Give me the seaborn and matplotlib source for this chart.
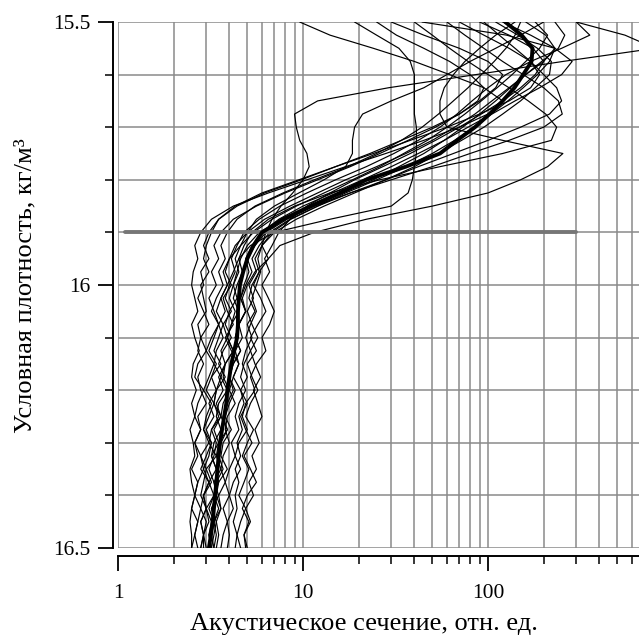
import numpy as np
import pandas as pd
import matplotlib
matplotlib.use("Agg")
import matplotlib.pyplot as plt
import seaborn as sns
from matplotlib.ticker import FixedLocator, FixedFormatter, NullFormatter, LogLocator

# density levels (conditional density, kg/m3)
density = [15.500, 15.525, 15.550, 15.575, 15.600, 15.625, 15.650, 15.675, 15.700, 15.725,
           15.750, 15.775, 15.800, 15.825, 15.850, 15.875, 15.900, 15.925, 15.950, 15.975,
           16.000, 16.025, 16.050, 16.075, 16.100, 16.125, 16.150, 16.175, 16.200, 16.225,
           16.250, 16.275, 16.300, 16.325, 16.350, 16.375, 16.400, 16.425, 16.450, 16.475,
           16.500]

# mean profile (thick line)
mean_profile = [124, 152, 174, 172, 155, 139, 120, 102, 85, 68,
                55, 36, 22, 15.8, 11, 7.8, 6.0, 5.4, 5.0, 4.75,
                4.56, 4.5, 4.45, 4.45, 4.4, 4.25, 4.1, 4.0, 3.9, 3.85,
                3.75, 3.65, 3.56, 3.5, 3.45, 3.4, 3.35, 3.3, 3.25, 3.18,
                3.1]

# individual profiles (thin lines)
p01 = [160, 205, 230, 215, 185, 155, 128, 104, 84, 66, 50, 36, 25, 17, 12, 8.6, 6.8,
       6.0, 5.7, 5.9, 5.6, 5.3, 5.6, 5.2, 4.9, 5.2, 4.8, 4.6, 4.9, 4.5, 4.3, 4.5, 4.1, 4.3, 4.0, 3.8, 4.0, 3.7, 3.9, 3.7, 3.6]
p02 = [120, 170, 230, 285, 250, 190, 140, 105, 78, 58, 42, 30, 21, 14.5, 10, 7.4, 6.0,
       5.3, 4.9, 5.1, 4.8, 4.6, 4.9, 4.5, 4.3, 4.6, 4.2, 4.0, 4.2, 3.9, 3.7, 3.9, 3.6, 3.5, 3.7, 3.4, 3.3, 3.5, 3.3, 3.2, 3.3]
p03 = [60, 75, 95, 120, 155, 200, 240, 252, 200, 130, 80, 50, 30, 18, 11.5, 7.8, 5.8,
       5.0, 4.6, 4.4, 4.2, 4.4, 4.0, 3.8, 4.1, 3.7, 3.5, 3.8, 3.4, 3.3, 3.6, 3.2, 3.1, 3.4, 3.0, 3.2, 2.9, 3.0, 3.1, 2.9, 3.0]
p04 = [30, 45, 70, 100, 120, 110, 90, 70, 50, 34, 23, 15, 9.8, 6.2, 4.4, 3.5, 3.2,
       3.0, 2.9, 3.1, 2.8, 2.9, 3.0, 2.7, 2.8, 3.0, 2.7, 2.6, 2.9, 2.7, 2.6, 2.8, 2.6, 2.7, 2.5, 2.7, 2.6, 2.5, 2.7, 2.6, 2.5]
p05 = [9.6, 14, 24, 40, 62, 95, 120, 100, 70, 45, 28, 17, 10.5, 6.5, 4.2, 3.2, 2.8,
       2.6, 2.7, 2.55, 2.5, 2.6, 2.7, 2.5, 2.6, 2.75, 2.55, 2.5, 2.65, 2.5, 2.6, 2.45, 2.55, 2.6, 2.45, 2.5, 2.6, 2.5, 2.45, 2.5, 2.5]
p06 = [19, 25, 33, 38, 40, 40, 40, 40, 41, 41, 41, 40, 39, 37, 30, 14, 7.0,
       5.2, 4.5, 4.2, 3.9, 3.6, 3.8, 3.5, 3.7, 3.4, 3.3, 3.6, 3.4, 3.3, 3.5, 3.2, 3.4, 3.3, 3.1, 3.3, 3.4, 3.2, 3.3, 3.1, 3.2]
p07 = [300, 550, 800, 254, 86, 29, 12, 9.0, 9.2, 9.6, 10.5, 10.8, 10, 8.8, 7.6, 6.8, 6.3,
       6.0, 6.5, 5.8, 5.4, 5.9, 6.3, 5.7, 5.2, 5.6, 5.0, 5.3, 5.7, 5.2, 4.9, 5.4, 5.0, 4.7, 5.1, 4.8, 4.5, 4.9, 4.6, 4.4, 4.6]
p08 = [200, 150, 110, 80, 60, 45, 30, 21, 19, 18.5, 18.5, 17, 13, 9.5, 7.0, 5.6, 5.0,
       4.6, 4.3, 4.5, 4.2, 4.0, 4.3, 4.1, 3.9, 4.2, 3.8, 3.7, 4.0, 3.7, 3.6, 3.9, 3.5, 3.4, 3.6, 3.3, 3.5, 3.2, 3.4, 3.3, 3.2]
p09 = [140, 110, 90, 75, 65, 58, 55, 55, 60, 120, 254, 210, 150, 100, 50, 22, 11.5,
       7.5, 6.5, 5.5, 5.0, 4.7, 4.9, 4.5, 4.3, 4.6, 4.2, 4.0, 4.3, 4.0, 3.8, 4.1, 3.7, 3.6, 3.9, 3.5, 3.4, 3.6, 3.3, 3.4, 3.3]
p10 = [90, 130, 175, 200, 180, 150, 120, 92, 70, 52, 38, 27, 19, 14, 10.5, 8.5, 7.4,
       6.8, 6.2, 6.6, 6.0, 6.5, 7.0, 6.6, 6.0, 6.3, 5.6, 5.2, 5.5, 4.9, 4.7, 5.0, 4.5, 4.3, 4.6, 4.2, 4.0, 4.2, 3.9, 4.0, 3.9]
p11 = [300, 355, 250, 170, 125, 100, 82, 68, 55, 42, 31, 22, 15, 10.5, 7.5, 5.8, 4.8,
       4.4, 4.1, 4.3, 4.0, 3.8, 4.1, 3.7, 3.9, 3.6, 3.8, 3.5, 3.7, 3.4, 3.6, 3.3, 3.5, 3.2, 3.4, 3.5, 3.3, 3.1, 3.3, 3.2, 3.1]
p12 = [44, 126, 230, 200, 160, 130, 105, 85, 66, 50, 36, 25, 17, 12, 8.5, 6.2, 5.0,
       4.3, 4.0, 3.7, 3.9, 3.6, 3.4, 3.7, 3.5, 3.3, 3.6, 3.2, 3.4, 3.1, 3.3, 3.0, 3.2, 3.1, 2.9, 3.1, 2.9, 3.0, 2.8, 2.9, 2.8]
p13 = [70, 95, 130, 170, 190, 170, 130, 90, 60, 38, 24, 15, 9.5, 6.0, 4.3, 3.5, 3.1,
       2.9, 3.1, 2.8, 2.9, 2.7, 2.9, 3.1, 2.8, 2.7, 2.9, 2.7, 2.8, 3.0, 2.7, 2.8, 2.6, 2.8, 2.9, 2.7, 2.6, 2.8, 2.7, 2.6, 2.7]
p14 = [110, 145, 185, 220, 215, 180, 150, 120, 95, 72, 54, 40, 28, 19, 13, 9.2, 7.0,
       6.0, 5.5, 5.8, 5.3, 5.1, 5.5, 5.0, 5.3, 4.9, 4.7, 5.0, 4.6, 4.8, 4.5, 4.7, 4.4, 4.6, 4.3, 4.5, 4.3, 4.4, 4.2, 4.4, 4.3]
p15 = [40, 50, 62, 78, 100, 130, 165, 205, 235, 220, 120, 55, 26, 14, 9.0, 6.5, 5.3,
       4.8, 4.5, 4.7, 4.4, 4.2, 4.5, 4.1, 3.9, 4.2, 3.8, 3.6, 3.9, 3.5, 3.4, 3.6, 3.3, 3.2, 3.4, 3.1, 3.3, 3.0, 3.2, 3.1, 3.2]
p16 = [180, 210, 190, 160, 135, 112, 92, 75, 60, 47, 35, 26, 18.5, 13, 9.2, 6.8, 5.4,
       4.6, 4.0, 3.8, 4.1, 3.7, 3.9, 4.2, 3.8, 4.1, 4.5, 4.2, 4.6, 5.0, 4.6, 4.9, 5.3, 4.8, 5.2, 5.6, 5.0, 4.7, 5.1, 4.8, 4.9]
p17 = [25, 32, 45, 62, 80, 95, 88, 70, 52, 37, 26, 18, 12, 8.0, 5.6, 4.2, 3.6,
       3.3, 3.5, 3.2, 3.4, 3.1, 3.3, 3.5, 3.2, 3.0, 3.3, 3.1, 2.9, 3.2, 3.0, 2.9, 3.1, 2.8, 3.0, 2.9, 2.8, 3.0, 2.8, 2.9, 2.8]
p18 = [230, 260, 240, 195, 160, 132, 110, 90, 73, 58, 45, 33, 24, 16.5, 11.5, 8.2, 6.3,
       5.5, 5.0, 5.3, 4.9, 4.6, 4.9, 4.5, 4.7, 4.3, 4.5, 4.2, 4.0, 4.3, 3.9, 3.8, 4.0, 3.7, 3.6, 3.8, 3.5, 3.6, 3.4, 3.5, 3.4]
p19 = [150, 140, 125, 108, 92, 78, 65, 54, 44, 34, 25, 17.5, 11.5, 7.8, 5.5, 4.4, 3.9,
       3.6, 3.8, 3.5, 3.7, 3.4, 3.2, 3.5, 3.3, 3.1, 3.4, 3.2, 3.0, 3.3, 3.1, 2.9, 3.2, 3.0, 2.8, 3.1, 2.9, 2.8, 3.0, 2.9, 2.9]
p20 = [95, 115, 140, 170, 200, 235, 250, 215, 150, 100, 65, 42, 28, 18, 12, 8.5, 6.6,
       5.8, 5.3, 5.6, 5.1, 5.4, 5.0, 5.3, 5.7, 5.2, 5.5, 5.9, 5.4, 5.7, 6.0, 5.5, 5.8, 5.3, 5.6, 5.1, 5.4, 4.9, 5.2, 4.8, 5.0]

profiles = [p01, p02, p03, p04, p05, p06, p07, p08, p09, p10,
            p11, p12, p13, p14, p15, p16, p17, p18, p19, p20]

# reference density level (gray horizontal line)
ref_density = 15.9
ref_x = [1.09, 300]

x_ticks = [1, 10, 100]
x_ticklabels = ["1", "10", "100"]
y_ticks = [15.5, 16.0, 16.5]
y_ticklabels = ["15.5", "16", "16.5"]
y_minor = [15.6, 15.7, 15.8, 15.9, 16.1, 16.2, 16.3, 16.4]

xlabel = "Акустическое сечение, отн. ед."
ylabel = "Условная плотность, кг/м³"

# ---------------------------------------------------------------
rows = []
for i, p in enumerate(profiles):
    assert len(p) == len(density), (i, len(p))
    for d, v in zip(density, p):
        rows.append({"profile": i, "density": d, "value": v})
df = pd.DataFrame(rows)
df_mean = pd.DataFrame({"density": density, "value": mean_profile})
df_ref = pd.DataFrame({"density": [ref_density, ref_density], "value": ref_x})

sns.set_theme(style="white")
plt.rcParams["font.family"] = ["Liberation Serif", "DejaVu Serif"]

W, H = 639, 635
fig = plt.figure(figsize=(W / 100, H / 100), dpi=100)
x0, x1 = 118, 639
y0, y1 = 22, 548
ax = fig.add_axes([x0 / W, 1 - y1 / H, (x1 - x0) / W, (y1 - y0) / H])
ax.set_xscale("log")
ax.set_xlim(1, 10 ** ((x1 - x0) / 185.0))
ax.set_ylim(16.5, 15.5)

grid_color = "#8a8a8a"
ax.set_axisbelow(True)

sns.lineplot(data=df, x="value", y="density", units="profile", estimator=None,
             sort=False, color="black", linewidth=0.85, ax=ax, legend=False,
             solid_joinstyle="round")
sns.lineplot(data=df_ref, x="value", y="density", estimator=None, sort=False,
             color="#767676", linewidth=2.8, ax=ax, legend=False)
sns.lineplot(data=df_mean, x="value", y="density", estimator=None, sort=False,
             color="black", linewidth=2.8, ax=ax, legend=False,
             solid_joinstyle="round")

ax.set_xlabel("")
ax.set_ylabel("")

for s in ["top", "right"]:
    ax.spines[s].set_visible(False)
ax.spines["left"].set_position(("outward", 3.6))
ax.spines["bottom"].set_position(("outward", 6))
for s in ["left", "bottom"]:
    ax.spines[s].set_linewidth(1.4)
    ax.spines[s].set_color("black")

ax.xaxis.set_major_locator(FixedLocator(x_ticks))
ax.xaxis.set_major_formatter(FixedFormatter(x_ticklabels))
ax.xaxis.set_minor_locator(LogLocator(base=10, subs=np.arange(2, 10), numticks=20))
ax.xaxis.set_minor_formatter(NullFormatter())
ax.yaxis.set_major_locator(FixedLocator(y_ticks))
ax.yaxis.set_major_formatter(FixedFormatter(y_ticklabels))
ax.yaxis.set_minor_locator(FixedLocator(y_minor))

ax.tick_params(axis="both", which="major", direction="out", length=11, width=1.3,
               color="black", labelsize=15.5, labelcolor="black", left=True, bottom=True)
ax.tick_params(axis="both", which="minor", direction="out", length=5.5, width=1.1,
               color="black", left=True, bottom=True)
ax.tick_params(axis="y", which="major", pad=5)
ax.tick_params(axis="x", which="major", pad=9)

ax.grid(True, which="both", axis="both", color=grid_color, linewidth=1.1)

# axis titles placed at the reference's pixel positions
fig.text(364 / W, 1 - 630 / H, xlabel, fontsize=19, color="black",
         ha="center", va="baseline")
fig.text(25 / W, 1 - 286 / H, ylabel, fontsize=19, color="black",
         ha="center", va="center", rotation=90)

fig.savefig("out.png", dpi=100)
